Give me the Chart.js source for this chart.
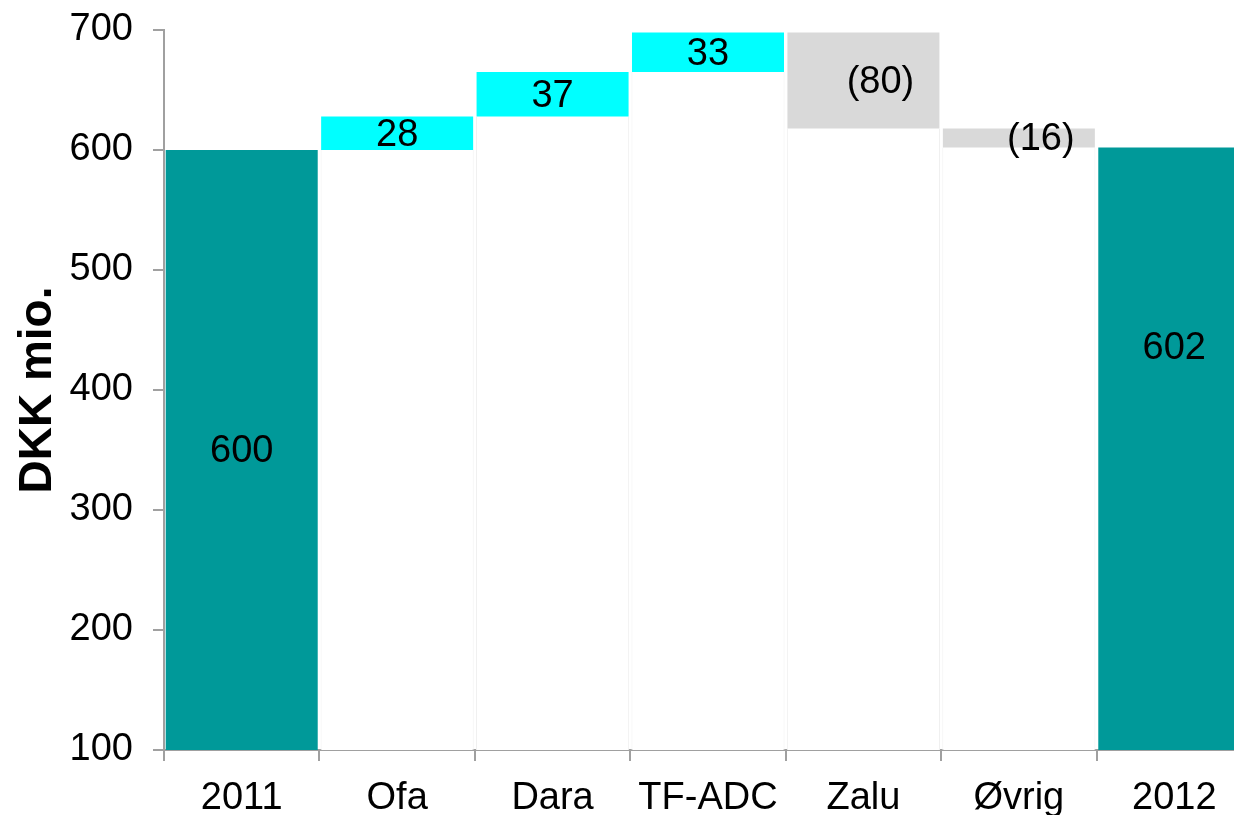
<!DOCTYPE html>
<html>
<head>
<meta charset="utf-8">
<script src="https://cdn.jsdelivr.net/npm/chart.js@4/dist/chart.umd.min.js"></script>
<style>
  html, body { margin: 0; padding: 0; background: #ffffff; overflow: hidden; }
  #wrap { width: 1262px; height: 815px; position: relative; }
</style>
</head>
<body>
<div id="wrap"><canvas id="c"></canvas></div>
<script>
// ---- data ----
const categories = ['2011', 'Ofa', 'Dara', 'TF-ADC', 'Zalu', 'Øvrig', '2012'];
const values = [600, 28, 37, 33, -80, -16, 602];
const kinds = ['total', 'up', 'up', 'up', 'down', 'down', 'total'];
const yTicks = [100, 200, 300, 400, 500, 600, 700];

const Y_MIN = 100, Y_MAX = 700;
const COLORS = { total: '#009999', up: '#00FFFF', down: '#D9D9D9' };

// waterfall ranges derived from values
let running = 0;
const barRanges = [];
const baseRanges = [];
values.forEach((v, i) => {
  if (kinds[i] === 'total') {
    running = v;
    barRanges.push([Y_MIN, v]);
    baseRanges.push(null);
  } else {
    const start = running;
    running = start + v;
    barRanges.push([start, running]);
    baseRanges.push([Y_MIN, Math.min(start, running)]);
  }
});
const labelTexts = values.map(v => v < 0 ? '(' + (-v) + ')' : String(v));

const FONT = "'Liberation Sans', Arial, sans-serif";

const labelPlugin = {
  id: 'wfLabels',
  afterDatasetsDraw(chart, args, opts) {
    const meta = chart.getDatasetMeta(1);
    const ys = chart.scales.y;
    const ctx = chart.ctx;
    ctx.save();
    ctx.font = '38px ' + FONT;
    ctx.fillStyle = '#000';
    ctx.textAlign = 'center';
    ctx.textBaseline = 'middle';
    meta.data.forEach((el, i) => {
      let y = (el.y + el.base) / 2;
      if (opts.anchorValue && opts.anchorValue[i] !== undefined) y = ys.getPixelForValue(opts.anchorValue[i]);
      const dx = (opts.dx && opts.dx[i]) || 0;
      ctx.fillText(labelTexts[i], el.x + dx, y + (opts.dy || 0));
    });
    ctx.restore();
  }
};

new Chart(document.getElementById('c'), {
  type: 'bar',
  data: {
    labels: categories,
    datasets: [
      {
        label: 'base',
        data: baseRanges,
        backgroundColor: '#ffffff',
        borderColor: '#f0f0f0',
        borderWidth: { left: 1, right: 1, top: 0, bottom: 0 },
        borderSkipped: false,
        grouped: false,
        categoryPercentage: 0.985,
        barPercentage: 1,
        order: 2
      },
      {
        label: 'value',
        data: barRanges,
        backgroundColor: kinds.map(k => COLORS[k]),
        borderWidth: 0,
        grouped: false,
        categoryPercentage: 0.978,
        barPercentage: 1,
        order: 1
      }
    ]
  },
  options: {
    responsive: true,
    maintainAspectRatio: false,
    animation: false,
    layout: { padding: { top: 30, right: 10, left: 0, bottom: 0 } },
    plugins: {
      legend: { display: false },
      tooltip: { enabled: false },
      wfLabels: { dy: 2, dx: { 4: 17, 5: 22 }, anchorValue: { 6: 436 } }
    },
    scales: {
      x: {
        offset: true,
        grid: {
          offset: true,
          drawOnChartArea: false,
          drawTicks: true,
          tickLength: 11,
          color: '#a0a0a0',
          lineWidth: 2
        },
        border: { display: true, color: '#a0a0a0', width: 2 },
        ticks: {
          color: '#000',
          font: { family: FONT, size: 38 },
          padding: 15,
          maxRotation: 0,
          autoSkip: false
        },
        afterFit(s) { s.height = 65; }
      },
      y: {
        min: Y_MIN,
        max: Y_MAX,
        afterBuildTicks(s) { s.ticks = yTicks.map(v => ({ value: v })); },
        grid: {
          drawOnChartArea: false,
          drawTicks: true,
          tickLength: 11,
          color: '#a0a0a0',
          lineWidth: 2
        },
        border: { display: true, color: '#a0a0a0', width: 2 },
        ticks: {
          color: '#000',
          font: { family: FONT, size: 38, lineHeight: 0.5 },
          padding: 20
        },
        title: {
          display: true,
          text: 'DKK mio.',
          color: '#000',
          font: { family: FONT, size: 46, weight: 'bold' },
          padding: { top: 11, bottom: 0 }
        },
        afterFit(s) { s.width = 164; }
      }
    }
  },
  plugins: [labelPlugin]
});
</script>
</body>
</html>
